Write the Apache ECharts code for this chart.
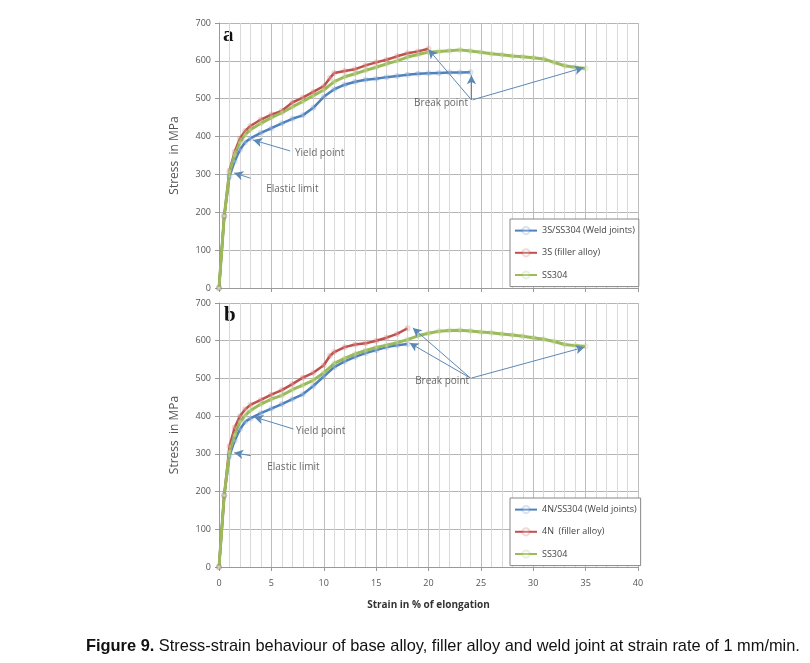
<!DOCTYPE html>
<html>
<head>
<meta charset="utf-8">
<script src="https://cdn.jsdelivr.net/npm/echarts@6/dist/echarts.min.js"></script>
<style>
html,body{margin:0;padding:0;background:#fff;}
#c{width:810px;height:663px;}
</style>
</head>
<body>
<div id="c"></div>
<script>
// ---------- DATA ----------
const strainTicks = [0, 5, 10, 15, 20, 25, 30, 35, 40];
const stressTicks = [0, 100, 200, 300, 400, 500, 600, 700];

const namesA = ['3S/SS304 (Weld joints)', '3S (filler alloy)', 'SS304'];
const namesB = ['4N/SS304 (Weld joints)', '4N  (filler alloy)', 'SS304'];

// Panel a: [strain %, stress MPa]
const weldA = [[0,0],[0.5,190],[1,295],[1.5,335],[2,365],[2.5,385],[3,395],[4,410],[5,422],[6,435],[7,447],[8,456],[9,476],[10,505],[11,525],[12,537],[13,545],[14,550],[15,553],[16,557],[17,560],[18,563],[19,566],[20,567],[21,568],[22,569],[23,569],[24,570]];
const fillerA = [[0,0],[0.5,190],[1,310],[1.5,360],[2,395],[2.5,415],[3,428],[4,445],[5,458],[6,468],[7,490],[8,503],[9,518],[10,533],[10.6,555],[11,568],[12,573],[13,578],[14,588],[15,596],[16,603],[17,612],[18,620],[19,625],[20,632]];
const ssA = [[0,0],[0.5,190],[1,305],[1.5,352],[2,385],[2.5,405],[3,418],[4,435],[5,450],[6,463],[7,478],[8,493],[9,508],[10,523],[11,545],[12,558],[13,566],[14,575],[15,583],[16,592],[17,600],[18,610],[19,617],[20,623],[21,625],[22,627],[23,629],[24,626],[25,623],[26,619],[27,616],[28,613],[29,611],[30,608],[31,605],[32,596],[33,587],[34,583],[35,580]];

// Panel b
const weldB = [[0,0],[0.5,190],[1,295],[1.5,335],[2,365],[2.5,385],[3,394],[4,408],[5,420],[6,432],[7,445],[8,458],[9,480],[10,505],[11,530],[12,545],[13,557],[14,567],[15,575],[16,583],[17,588],[18,591]];
const fillerB = [[0,0],[0.5,190],[1,320],[1.5,370],[2,400],[2.5,418],[3,430],[4,443],[5,457],[6,469],[7,485],[8,502],[9,515],[10,535],[10.6,560],[11,570],[12,583],[13,590],[14,593],[15,600],[16,608],[17,618],[18,633]];
const ssB = [[0,0],[0.5,190],[1,305],[1.5,350],[2,385],[2.5,402],[3,415],[4,432],[5,445],[6,455],[7,470],[8,482],[9,495],[10,515],[11,540],[12,553],[13,565],[14,574],[15,582],[16,588],[17,595],[18,603],[19,613],[20,620],[21,625],[22,627],[23,628],[24,626],[25,623],[26,621],[27,618],[28,615],[29,612],[30,608],[31,604],[32,598],[33,590],[34,587],[35,585]];

// Annotations: text labels at [strain, stress, text]
const labelsA = [[9.6,357,'Yield point'],[7.0,261,'Elastic limit'],[21.2,489,'Break point']];
const labelsB = [[9.7,360,'Yield point'],[7.1,265,'Elastic limit'],[21.3,493,'Break point']];
// Arrows: [fromStrain, fromStress, toStrain, toStress]
const arrowsA = [[6.8,362,3.25,391],[3.0,290,1.45,304],[24.1,497,20.0,630],[24.1,497,24.1,562],[24.2,497,34.8,582]];
const arrowsB = [[7.1,366,3.35,398],[3.05,295,1.45,303],[24.0,501,18.5,634],[24.0,501,18.2,594],[24.1,501,34.9,583]];

// ---------- CHART ----------
const colors = { weld: '#4F81BD', filler: '#C0504D', ss: '#9BBB59' };
const axisTxt = { color: '#555', fontSize: 9, fontFamily: 'Open Sans' };

function xAxis(gi, showLabels) {
  return {
    type: 'value', gridIndex: gi, min: 0, max: 40, interval: 5,
    axisLine: { show: true, lineStyle: { color: '#999' } },
    axisTick: { show: true, length: 4, lineStyle: { color: '#999' } },
    axisLabel: Object.assign({ show: showLabels, margin: 12,
      formatter: v => strainTicks.includes(v) ? String(v) : '' }, axisTxt),
    splitLine: { show: true, lineStyle: { color: '#bdbdbd', width: 1 } },
    minorTick: { show: false, splitNumber: 5 },
    minorSplitLine: { show: true, lineStyle: { color: '#d9d9d9', width: 1 } },
    name: showLabels ? 'Strain in % of elongation' : '',
    nameLocation: 'middle', nameGap: 33,
    nameTextStyle: { color: '#333', fontSize: 10, fontWeight: 'bold', fontFamily: 'Open Sans' }
  };
}
function yAxis(gi) {
  return {
    type: 'value', gridIndex: gi, min: 0, max: 700, interval: 100,
    axisLine: { show: true, lineStyle: { color: '#999' } },
    axisTick: { show: true, length: 4, lineStyle: { color: '#999' } },
    axisLabel: Object.assign({ margin: 8,
      formatter: v => stressTicks.includes(v) ? String(v) : '' }, axisTxt),
    splitLine: { show: true, lineStyle: { color: '#b5b5b5' } },
    name: 'Stress  in MPa', nameLocation: 'middle', nameGap: 38,
    nameTextStyle: { color: '#555', fontSize: 12, fontFamily: 'Open Sans' }
  };
}
function lineSeries(name, data, color, gi, width) {
  return {
    type: 'line', name, data, xAxisIndex: gi, yAxisIndex: gi,
    symbol: 'emptyCircle', symbolSize: 4, showSymbol: true,
    lineStyle: { color, width: width },
    itemStyle: { color: color, opacity: 0.22 },
    z: 3
  };
}
function annotSeries(labels, arrows, gi) {
  return {
    type: 'scatter', xAxisIndex: gi, yAxisIndex: gi, symbolSize: 0, silent: true,
    data: labels.map(l => ({ value: [l[0], l[1]], name: l[2] })),
    label: { show: true, position: 'inside', formatter: p => p.name,
      color: '#444', fontSize: 10, fontFamily: 'Open Sans' },
    markLine: {
      silent: true, symbol: ['none', 'arrow'], symbolSize: [7, 9],
      label: { show: false },
      lineStyle: { color: '#5b88b5', width: 1, type: 'solid' },
      data: arrows.map(a => [{ coord: [a[0], a[1]] }, { coord: [a[2], a[3]] }])
    },
    z: 5
  };
}
const legendBase = {
  orient: 'vertical', left: 510, width: 129, itemWidth: 22, itemHeight: 9, itemGap: 13,
  padding: [7, 4, 7, 4], borderColor: '#888', borderWidth: 1, backgroundColor: '#fff',
  textStyle: { color: '#444', fontSize: 9, fontFamily: 'Open Sans' }
};

const option = {
  animation: false,
  backgroundColor: '#fff',
  grid: [
    { left: 219, right: 172, top: 23, height: 265 },
    { left: 219, right: 172, top: 303, height: 264 }
  ],
  xAxis: [xAxis(0, false), xAxis(1, true)],
  yAxis: [yAxis(0), yAxis(1)],
  legend: [
    Object.assign({}, legendBase, { top: 219, data: namesA }),
    Object.assign({}, legendBase, { top: 498, data: namesB })
  ],
  series: [
    lineSeries(namesA[0], weldA, colors.weld, 0, 2.5),
    lineSeries(namesA[1], fillerA, colors.filler, 0, 2.5),
    lineSeries(namesA[2], ssA, colors.ss, 0, 3),
    lineSeries(namesB[0], weldB, colors.weld, 1, 2.5),
    lineSeries(namesB[1], fillerB, colors.filler, 1, 2.5),
    lineSeries(namesB[2], ssB, colors.ss, 1, 3),
    annotSeries(labelsA, arrowsA, 0),
    annotSeries(labelsB, arrowsB, 1)
  ],
  graphic: [
    { type: 'text', left: 223, top: 25, style: { text: 'a', font: 'bold 21px "Liberation Serif"', fill: '#111' } },
    { type: 'text', left: 224, top: 305, style: { text: 'b', font: 'bold 21px "Liberation Serif"', fill: '#111' } },
    { type: 'text', left: 86, top: 638, style: {
        text: '{b|Figure 9.} Stress-strain behaviour of base alloy, filler alloy and weld joint at strain rate of 1 mm/min.',
        font: '16.4px "Liberation Sans"', fill: '#111',
        rich: { b: { font: 'bold 16.4px "Liberation Sans"', fill: '#111' } }
    } }
  ]
};
const chart = echarts.init(document.getElementById('c'), null, { renderer: 'canvas' });
chart.setOption(option);
</script>
</body>
</html>
